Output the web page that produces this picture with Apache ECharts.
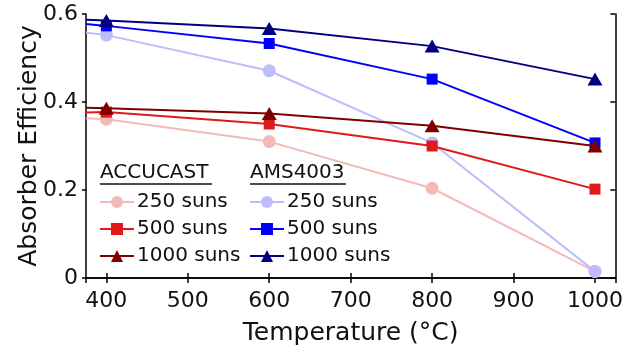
<!DOCTYPE html>
<html>
<head>
<meta charset="utf-8">
<script src="https://cdn.jsdelivr.net/npm/echarts@6/dist/echarts.min.js"></script>
<style>
  html, body { margin: 0; padding: 0; background: #fff; }
  #chart { width: 626px; height: 351px; }
</style>
</head>
<body>
<div id="chart"></div>
<script>
// temperatures (°C); first value is where the lines leave the left edge
var temps = [375, 400, 600, 800, 1000]

// ACCUCAST
var accu250 = [0.363, 0.361, 0.310, 0.204, 0.015]
var accu500 = [0.376, 0.377, 0.350, 0.300, 0.202]
var accu1000 = [0.387, 0.386, 0.374, 0.346, 0.300]
// AMS4003
var ams250 = [0.558, 0.552, 0.471, 0.307, 0.015]
var ams500 = [0.577, 0.573, 0.533, 0.452, 0.307]
var ams1000 = [0.587, 0.585, 0.567, 0.527, 0.452]

var font = 'DejaVu Sans'

function pts (vals) {
  return temps.map(function (t, i) {
    var p = { value: [t, vals[i]] }
    if (i === 0) p.symbol = 'none'
    return p
  })
}

function line (name, vals, color, symbol, size, z) {
  return {
    name: name,
    type: 'line',
    data: pts(vals),
    symbol: symbol,
    symbolSize: size,
    showAllSymbol: true,
    z: z,
    lineStyle: { color: color, width: 2 },
    itemStyle: { color: color },
    emphasis: { disabled: true },
    animation: false
  }
}

var axisLine = { show: true, lineStyle: { color: '#000', width: 1.5 } }
var tick = { inside: true, length: 5, lineStyle: { color: '#000', width: 1.5 } }

function legend (names, prefix, left) {
  return {
    data: names,
    orient: 'vertical',
    left: left,
    top: 192,
    padding: 0,
    itemWidth: 34,
    itemHeight: 15,
    itemGap: 7,
    selectedMode: false,
    formatter: function (n) { return n.replace(prefix, '') },
    textStyle: { fontFamily: font, fontSize: 20, color: '#111', padding: [0, 0, 0, -2] }
  }
}

var chart = echarts.init(document.getElementById('chart'))
chart.setOption({
  backgroundColor: '#fff',
  grid: { left: 86, right: 9, top: 14, bottom: 73 },
  xAxis: [{
    type: 'value',
    min: 375,
    max: 1025,
    minInterval: 100,
    maxInterval: 100,
    name: 'Temperature (°C)',
    nameLocation: 'middle',
    nameGap: 43,
    nameMoveOverlap: false,
    nameTextStyle: { fontFamily: font, fontSize: 25, color: '#111' },
    axisLine: axisLine,
    axisTick: tick,
    axisLabel: {
      showMinLabel: false,
      showMaxLabel: false,
      margin: 12,
      fontFamily: font,
      fontSize: 22,
      color: '#111',
      formatter: function (v) { return String(v) }
    },
    splitLine: { show: false }
  }, {
    type: 'value',
    position: 'top',
    min: 375,
    max: 1025,
    minInterval: 100,
    maxInterval: 100,
    axisLine: axisLine,
    axisTick: tick,
    axisLabel: { show: false },
    splitLine: { show: false }
  }],
  yAxis: [{
    type: 'value',
    min: 0,
    max: 0.6,
    interval: 0.2,
    name: 'Absorber Efficiency',
    nameLocation: 'middle',
    nameGap: 44,
    nameMoveOverlap: false,
    nameTextStyle: { fontFamily: font, fontSize: 25, color: '#111' },
    axisLine: axisLine,
    axisTick: { inside: false, length: 4, lineStyle: { color: '#000', width: 1.5 } },
    axisLabel: { margin: 8, fontFamily: font, fontSize: 22, color: '#111' },
    splitLine: { show: false }
  }, {
    type: 'value',
    position: 'right',
    min: 0,
    max: 0.6,
    interval: 0.2,
    axisLine: axisLine,
    axisTick: tick,
    axisLabel: { show: false },
    splitLine: { show: false }
  }],
  legend: [
    legend(['ACCUCAST 250 suns', 'ACCUCAST 500 suns', 'ACCUCAST 1000 suns'], 'ACCUCAST ', 99),
    legend(['AMS4003 250 suns', 'AMS4003 500 suns', 'AMS4003 1000 suns'], 'AMS4003 ', 249)
  ],
  graphic: [
    { type: 'text', left: 100, top: 163, style: { text: 'ACCUCAST', font: '20px "DejaVu Sans"', fill: '#111' } },
    { type: 'line', shape: { x1: 100, y1: 184, x2: 212, y2: 184 }, style: { stroke: '#111', lineWidth: 1.5 } },
    { type: 'text', left: 250, top: 163, style: { text: 'AMS4003', font: '20px "DejaVu Sans"', fill: '#111' } },
    { type: 'line', shape: { x1: 250, y1: 184, x2: 346, y2: 184 }, style: { stroke: '#111', lineWidth: 1.5 } }
  ],
  series: [
    line('ACCUCAST 250 suns', accu250, '#f4b9b9', 'circle', 13, 2),
    line('AMS4003 250 suns', ams250, '#bdbdfc', 'circle', 13, 3),
    line('ACCUCAST 500 suns', accu500, '#e01a1a', 'rect', 11, 4),
    line('AMS4003 500 suns', ams500, '#0000ff', 'rect', 11, 5),
    line('ACCUCAST 1000 suns', accu1000, '#800000', 'triangle', [15, 13], 6),
    line('AMS4003 1000 suns', ams1000, '#000080', 'triangle', [15, 13], 7)
  ]
})
</script>
</body>
</html>
